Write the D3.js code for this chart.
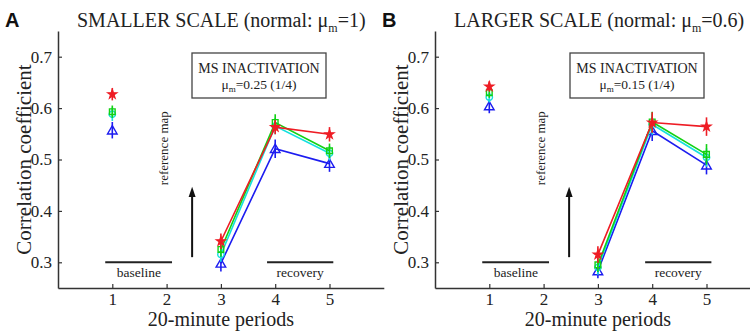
<!DOCTYPE html>
<html><head><meta charset="utf-8">
<script src="https://cdn.jsdelivr.net/npm/d3@7"></script>
<style>body{margin:0;background:#fff}svg{display:block}</style>
</head><body>
<svg id="chart" width="750" height="331"></svg>
<script>
// ---- data ----
const periods = [1, 3, 4, 5];
const xTicks = [1, 2, 3, 4, 5];
const yTicks = [0.3, 0.4, 0.5, 0.6, 0.7];
const seriesColors = ["#ee1c24", "#13d113", "#15e0e0", "#1c1cf0"];
const seriesSymbols = ["star", "square", "circle", "triangle"];

// Panel A (smaller scale)
const smallRed   = [0.627, 0.341, 0.563, 0.549];
const smallGreen = [0.593, 0.325, 0.572, 0.517];
const smallCyan  = [0.588, 0.315, 0.565, 0.512];
const smallBlue  = [0.557, 0.298, 0.521, 0.492];
const smallRedErr   = [0.012, 0.015, 0.014, 0.014];
const smallGreenErr = [0.012, 0.014, 0.016, 0.014];
const smallCyanErr  = [0.013, 0.014, 0.016, 0.014];
const smallBlueErr  = [0.016, 0.016, 0.018, 0.016];

// Panel B (larger scale)
const largeRed   = [0.642, 0.315, 0.572, 0.564];
const largeGreen = [0.630, 0.295, 0.573, 0.510];
const largeCyan  = [0.621, 0.290, 0.568, 0.504];
const largeBlue  = [0.604, 0.283, 0.556, 0.489];
const largeRedErr   = [0.010, 0.016, 0.020, 0.018];
const largeGreenErr = [0.010, 0.014, 0.020, 0.020];
const largeCyanErr  = [0.010, 0.014, 0.020, 0.018];
const largeBlueErr  = [0.014, 0.014, 0.020, 0.018];

const svg = d3.select("#chart");
const serif = "'Liberation Serif','Times New Roman',serif";
const axisColor = "#333";

function drawPanel(opt) {
  const g = svg.append("g");
  const x = d3.scaleLinear().domain([0, 6]).range([opt.x0, opt.x0 + 6 * 54.3]);
  const y = d3.scaleLinear().domain([0.25, 0.75]).range([288, 31]);

  // panel letter
  g.append("text").attr("x", opt.x0 - 53).attr("y", 27)
    .style("font-family", "'Liberation Sans',Arial,sans-serif").attr("font-weight", "bold")
    .attr("font-size", 20).attr("fill", "#111").text(opt.letter);

  // title
  const t = g.append("text").attr("x", opt.x0 + 19).attr("y", 27)
    .style("font-family", serif).attr("font-size", 20).attr("fill", "#222");
  t.append("tspan").text(opt.titleMain + "μ");
  t.append("tspan").attr("font-size", 12).attr("dy", 5).text("m");
  t.append("tspan").attr("dy", -5).text(opt.titleEnd);

  // axes
  const xAxis = d3.axisBottom(x).tickValues(xTicks).tickFormat(d3.format("d")).tickSizeInner(-4).tickSizeOuter(0).tickPadding(5);
  const gx = g.append("g").attr("transform", `translate(0,${y(0.25)})`).call(xAxis);
  const yAxis = d3.axisLeft(y).tickValues(yTicks).tickFormat(d3.format(".1f")).tickSizeInner(-4).tickSizeOuter(0).tickPadding(6);
  const gy = g.append("g").attr("transform", `translate(${x(0)},0)`).call(yAxis);
  [gx, gy].forEach(a => {
    a.attr("font-family", null);
    a.select(".domain").attr("stroke", axisColor).attr("stroke-width", 1.5);
    a.selectAll(".tick line").attr("stroke", axisColor).attr("stroke-width", 1.2);
    a.selectAll(".tick text").style("font-family", serif).attr("font-size", 17).attr("fill", "#222");
  });

  // axis titles
  g.append("text").attr("x", x(3)).attr("y", 326).attr("text-anchor", "middle")
    .style("font-family", serif).attr("font-size", 20).attr("fill", "#222").text("20-minute periods");
  g.append("text").attr("transform", `translate(${opt.x0 - 27},${y(0.5)}) rotate(-90)`)
    .attr("text-anchor", "middle").style("font-family", serif).attr("font-size", 21).attr("fill", "#222")
    .text("Correlation coefficient");

  // baseline / recovery bars
  const bars = [[0.87, 2.1, 1.49, "baseline"], [opt.recStart, opt.recEnd, (opt.recStart + opt.recEnd) / 2, "recovery"]];
  bars.forEach(b => {
    g.append("line").attr("x1", x(b[0])).attr("x2", x(b[1])).attr("y1", y(0.3)).attr("y2", y(0.3))
      .attr("stroke", "#222").attr("stroke-width", 2);
    g.append("text").attr("x", x(b[2])).attr("y", y(0.3) + 15).attr("text-anchor", "middle")
      .style("font-family", serif).attr("font-size", 13.5).attr("fill", "#222").text(b[3]);
  });

  // arrow + reference map
  const ax = x(opt.arrowX);
  g.append("line").attr("x1", ax).attr("x2", ax).attr("y1", y(0.31)).attr("y2", y(0.43))
    .attr("stroke", "#111").attr("stroke-width", 2);
  g.append("path").attr("d", `M${ax},${y(0.447)} L${ax - 3.5},${y(0.427)} L${ax + 3.5},${y(0.427)} Z`).attr("fill", "#111");
  g.append("text").attr("transform", `translate(${ax - 24},${y(0.522)}) rotate(-90)`)
    .attr("text-anchor", "middle").style("font-family", serif).attr("font-size", 13).attr("fill", "#222")
    .text("reference map");

  // info box
  g.append("rect").attr("x", opt.boxX).attr("y", 53).attr("width", 134).attr("height", 45)
    .attr("fill", "#fff").attr("stroke", "#444").attr("stroke-width", 1.3);
  g.append("text").attr("x", opt.boxX + 67).attr("y", 73).attr("text-anchor", "middle")
    .style("font-family", serif).attr("font-size", 14).attr("fill", "#222").text("MS INACTIVATION");
  const bt = g.append("text").attr("x", opt.boxX + 67).attr("y", 89).attr("text-anchor", "middle")
    .style("font-family", serif).attr("font-size", 13.5).attr("fill", "#222");
  bt.append("tspan").text("μ");
  bt.append("tspan").attr("font-size", 9).attr("dy", 3).text("m");
  bt.append("tspan").attr("dy", -3).text(opt.boxValue);

  // series: draw blue, cyan, green, red (red on top)
  const order = [3, 2, 1, 0];
  order.forEach(si => {
    const vals = opt.series[si], errs = opt.errors[si], col = seriesColors[si];
    const pts = periods.map((p, i) => ({ p, v: vals[i], e: errs[i] }));
    const line = d3.line().x(d => x(d.p)).y(d => y(d.v));
    g.append("path").datum(pts.filter(d => d.p >= 3)).attr("d", line)
      .attr("fill", "none").attr("stroke", col).attr("stroke-width", 1.6);
    g.selectAll(null).data(pts).enter().append("line")
      .attr("x1", d => x(d.p)).attr("x2", d => x(d.p))
      .attr("y1", d => y(d.v - d.e)).attr("y2", d => y(d.v + d.e))
      .attr("stroke", col).attr("stroke-width", 1.6);
    const kind = seriesSymbols[si];
    const symType = { star: d3.symbolStar, square: d3.symbolSquare, circle: d3.symbolCircle, triangle: d3.symbolTriangle }[kind];
    const sym = d3.symbol().type(symType).size(kind === "star" ? 26 : kind === "triangle" ? 40 : 32);
    g.selectAll(null).data(pts).enter().append("path")
      .attr("d", sym)
      .attr("transform", d => `translate(${x(d.p)},${y(d.v) + (kind === "triangle" ? 1 : 0)})`)
      .attr("fill", kind === "star" ? col : "none")
      .attr("stroke", col).attr("stroke-width", kind === "star" ? 1.2 : 1.4);
  });
}

drawPanel({
  x0: 58, letter: "A", titleMain: "SMALLER SCALE (normal: ", titleEnd: "=1)",
  boxX: 192, boxValue: "=0.25 (1/4)", arrowX: 2.47, recStart: 3.85, recEnd: 5.07,
  series: [smallRed, smallGreen, smallCyan, smallBlue],
  errors: [smallRedErr, smallGreenErr, smallCyanErr, smallBlueErr]
});
drawPanel({
  x0: 435, letter: "B", titleMain: "LARGER SCALE (normal: ", titleEnd: "=0.6)",
  boxX: 570, boxValue: "=0.15 (1/4)", arrowX: 2.47, recStart: 3.87, recEnd: 5.09,
  series: [largeRed, largeGreen, largeCyan, largeBlue],
  errors: [largeRedErr, largeGreenErr, largeCyanErr, largeBlueErr]
});
</script>
</body></html>
